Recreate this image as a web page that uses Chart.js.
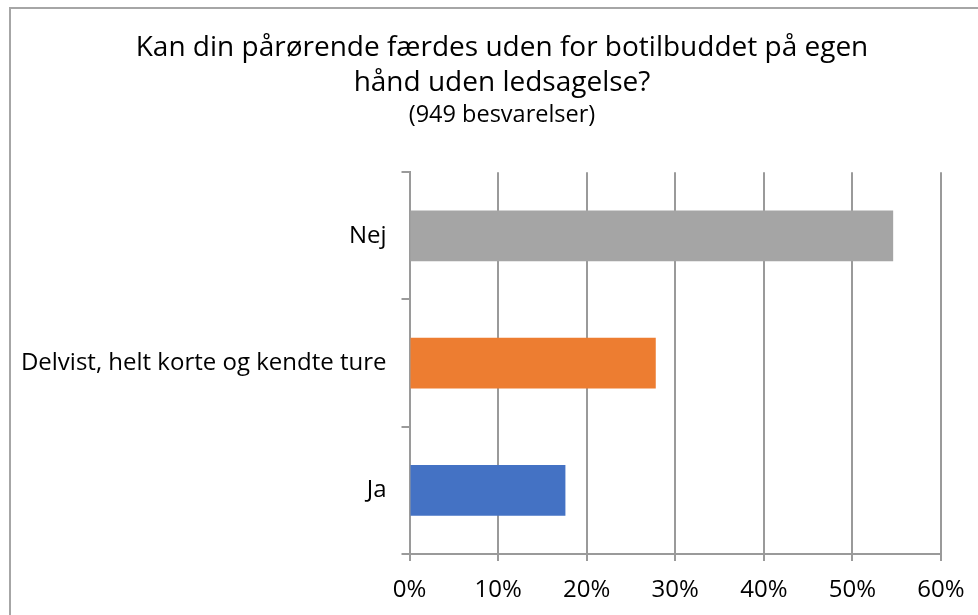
<!DOCTYPE html>
<html>
<head>
<meta charset="utf-8">
<script src="https://cdn.jsdelivr.net/npm/chart.js@4/dist/chart.umd.min.js"></script>
<style>
html,body{margin:0;padding:0;background:#fff;}
canvas{display:block;}
</style>
</head>
<body>
<canvas id="c" width="978" height="615"></canvas>
<script>
const titleLines = ['Kan din pårørende færdes uden for botilbuddet på egen', 'hånd uden ledsagelse?'];
const subtitleText = '(949 besvarelser)';
const categories = ['Nej', 'Delvist, helt korte og kendte ture', 'Ja'];
const values = [54.6, 27.8, 17.6];
const barColors = ['#A5A5A5', '#ED7D31', '#4472C4'];
const xTicks = [0, 10, 20, 30, 40, 50, 60];

const FONT = '"Open Sans", Lato, sans-serif';
const GRID = '#9a9a9a';

const frame = {
  id: 'frame',
  afterLayout(chart) {
    const y = chart.scales.y;
    y.width = y.right;
    y.left = 0;
  },
  beforeDraw(chart) {
    const ctx = chart.ctx;
    ctx.save();
    ctx.fillStyle = '#ffffff';
    ctx.fillRect(0, 0, chart.width, chart.height);
    ctx.strokeStyle = '#a6a6a6';
    ctx.lineWidth = 2;
    ctx.strokeRect(10, 8, chart.width + 20, chart.height + 20);
    ctx.restore();
  }
};

new Chart(document.getElementById('c'), {
  type: 'bar',
  data: {
    labels: categories,
    datasets: [{
      data: values,
      backgroundColor: barColors,
      borderWidth: 0,
      barPercentage: 0.4,
      categoryPercentage: 1.0
    }]
  },
  plugins: [frame],
  options: {
    indexAxis: 'y',
    responsive: false,
    animation: false,
    devicePixelRatio: 1,
    layout: { padding: { left: 26, right: 0, top: 0, bottom: 0 } },
    plugins: {
      legend: { display: false },
      tooltip: { enabled: false },
      title: {
        display: true,
        text: titleLines,
        color: '#000',
        font: { family: FONT, size: 28, weight: 'normal', lineHeight: 1.25 },
        padding: { top: 31, bottom: 0 }
      },
      subtitle: {
        display: true,
        text: subtitleText,
        color: '#000',
        font: { family: FONT, size: 23.5, weight: 'normal', lineHeight: 1.2 },
        padding: { top: 0, bottom: 43 }
      }
    },
    scales: {
      x: {
        min: 0,
        max: 60,
        afterBuildTicks(scale) { scale.ticks = xTicks.map(v => ({ value: v })); },
        afterFit(scale) { scale.height = 61; scale.paddingRight = 37; },
        ticks: {
          color: '#000',
          font: { family: FONT, size: 24 },
          padding: 15,
          callback: v => v + '%'
        },
        grid: { color: GRID, lineWidth: 2, tickLength: 7, drawOnChartArea: true },
        border: { display: true, color: GRID, width: 2 }
      },
      y: {
        afterFit(scale) { scale.width = 383.5; },
        ticks: {
          color: '#000',
          font: { family: FONT, size: 24 },
          padding: 15
        },
        grid: { offset: true, drawOnChartArea: false, color: GRID, lineWidth: 2, tickLength: 8 },
        border: { display: true, color: GRID, width: 2 }
      }
    }
  }
});
</script>
</body>
</html>
